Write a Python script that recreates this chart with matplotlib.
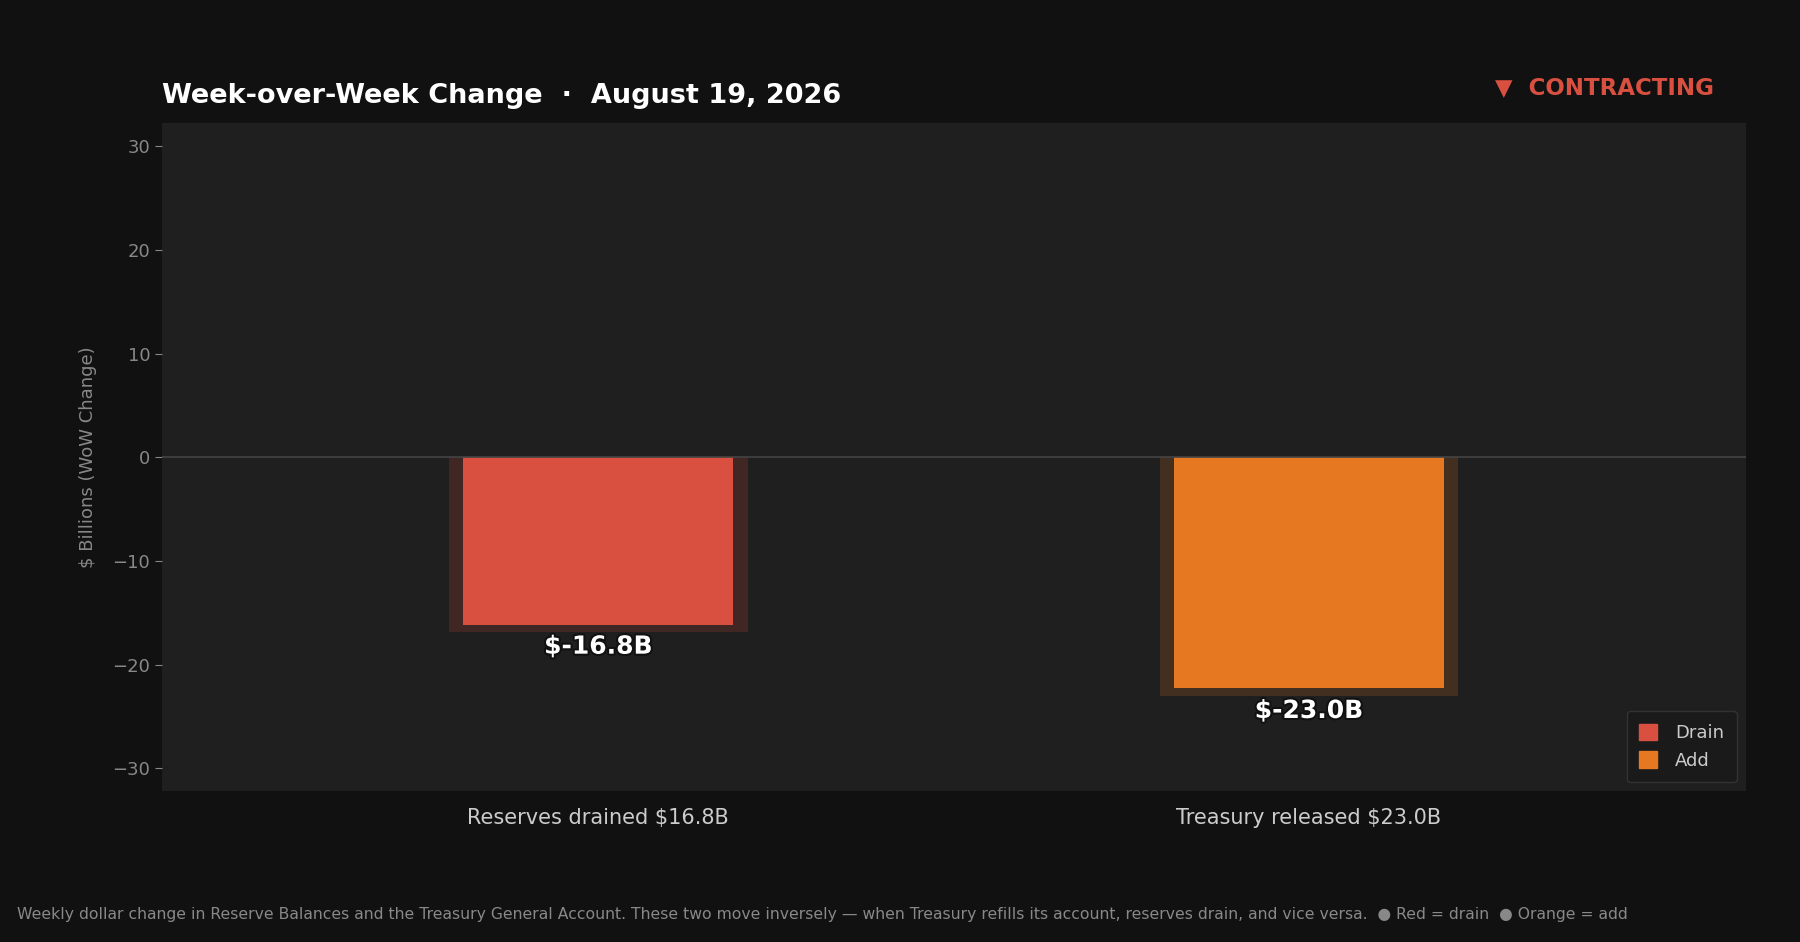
import matplotlib
matplotlib.use("Agg")
import matplotlib.pyplot as plt
import matplotlib.patheffects as pe
from matplotlib.patches import Patch

# data
categories = ["Reserves drained $16.8B", "Treasury released $23.0B"]
changes = [-16.8, -23.0]
value_labels = ["$-16.8B", "$-23.0B"]
bar_colors = ["#d95040", "#e67822"]
legend_names = ["Drain", "Add"]

BG = "#111111"
PANEL = "#1f1f1f"

fig = plt.figure(figsize=(18, 9.42), dpi=100, facecolor=BG)
ax = fig.add_axes([0.09, 0.16, 0.88, 0.709])
ax.set_facecolor(PANEL)

x = list(range(len(changes)))

# faint shadow bar at full value, main bar slightly inset
ax.bar(x, changes, width=0.42, color=bar_colors, alpha=0.18, zorder=2)
ax.bar(x, [v * 0.965 for v in changes], width=0.38, color=bar_colors, zorder=3)

for xi, v, lab in zip(x, changes, value_labels):
    ax.text(xi, v - 0.3, lab, ha="center", va="top", fontsize=18, fontweight="bold",
            color="white", zorder=5,
            path_effects=[pe.withStroke(linewidth=3, foreground="#111111")])

ax.axhline(0, color="#444444", lw=1.2, zorder=4)

lim = max(abs(v) for v in changes) * 1.4
ax.set_ylim(-lim, lim)
ax.set_xlim(-0.614, 1.615)
ax.set_xticks(x)
ax.set_xticklabels(categories, fontsize=15, color="#cccccc")
ax.tick_params(axis="x", length=0, pad=12)
ax.tick_params(axis="y", colors="#888888", labelsize=13, length=5)
ax.set_yticks([-30, -20, -10, 0, 10, 20, 30])
ax.set_ylabel("$ Billions (WoW Change)", color="#888888", fontsize=13, labelpad=11)
for s in ax.spines.values():
    s.set_visible(False)

handles = [Patch(color=c, label=n) for c, n in zip(bar_colors, legend_names)]
leg = ax.legend(handles=handles, loc="lower right", fontsize=13, facecolor="#1a1a1a",
                edgecolor="#333333", labelcolor="#cccccc", framealpha=1,
                handlelength=1.0, handleheight=1.0, handletextpad=1.0,
                borderpad=0.7, borderaxespad=0.5)

fig.text(0.09, 0.891, "Week-over-Week Change  \u00b7  August 19, 2026", fontsize=19.5,
         fontweight="bold", color="white", ha="left", va="baseline")
fig.text(0.952, 0.9, "\u25bc  CONTRACTING", fontsize=16.5, fontweight="bold",
         color="#d95040", ha="right", va="baseline")

fig.text(0.0095, 0.024, "Weekly dollar change in Reserve Balances and the Treasury General Account. "
         "These two move inversely \u2014 when Treasury refills its account, reserves drain, "
         "and vice versa.  \u25cf Red = drain  \u25cf Orange = add",
         fontsize=11.25, color="#888888", ha="left", va="baseline")

fig.savefig("out.png", dpi=100, facecolor=BG)
